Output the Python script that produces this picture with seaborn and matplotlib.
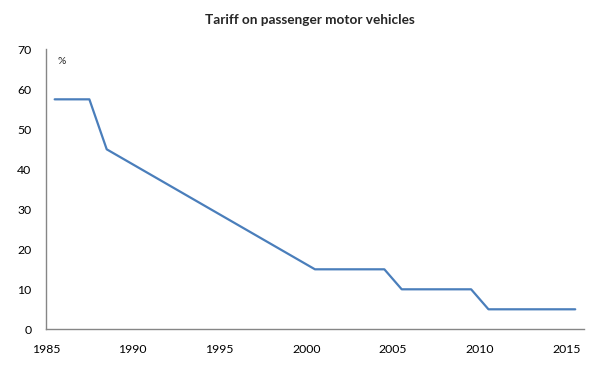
import matplotlib
matplotlib.use("Agg")
import matplotlib.pyplot as plt
import seaborn as sns
import pandas as pd
import numpy as np

years = list(range(1985, 2016))
tariff = [57.5, 57.5, 57.5, 45, 42.5, 40, 37.5, 35, 32.5, 30, 27.5, 25, 22.5, 20, 17.5,
          15, 15, 15, 15, 15, 10, 10, 10, 10, 10, 5, 5, 5, 5, 5, 5]
xticks = [1985, 1990, 1995, 2000, 2005, 2010, 2015]
yticks = [0, 10, 20, 30, 40, 50, 60, 70]
title = "Tariff on passenger motor vehicles"

sns.set_theme(style="white")
plt.rcParams['font.family'] = ['Lato', 'DejaVu Sans']

df = pd.DataFrame({"year": years, "tariff": tariff})
df["pos"] = df["year"] + 0.5  # points centred within each year category

fig = plt.figure(figsize=(6.14, 3.71), dpi=100)
ax = fig.add_axes([0.0749, 0.1124, 0.951 - 0.0749, 0.867 - 0.1124])
sns.lineplot(data=df, x="pos", y="tariff", ax=ax, color="#4A7EBB", linewidth=1.6)

ax.set_xlim(1985, 2016)
ax.set_ylim(0, 70)
ax.set_xticks(xticks)
ax.set_yticks(yticks)
ax.set_xlabel("")
ax.set_ylabel("")
sns.despine(ax=ax)
for s in ["left", "bottom"]:
    ax.spines[s].set_color("#868686")
    ax.spines[s].set_linewidth(1.0)
ax.tick_params(axis="both", direction="out", length=4.5, width=1.0, color="#868686",
               labelsize=8.8, labelcolor="black")
ax.tick_params(axis="y", pad=6)
ax.tick_params(axis="x", pad=6)
ax.text(0.022, 0.957, "%", transform=ax.transAxes, fontsize=7.5, va="center", ha="left")
fig.text(0.505, 0.945, title, ha="center", va="center", fontsize=9.8, fontweight="bold")

fig.savefig("out.png", dpi=100)
